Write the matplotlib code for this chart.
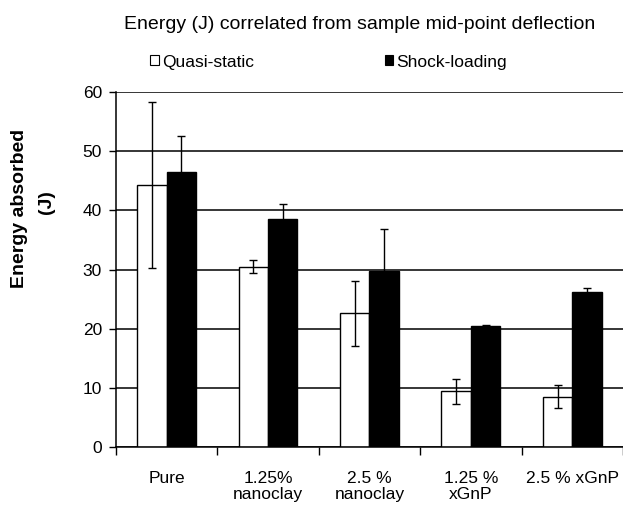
import matplotlib
matplotlib.use("Agg")
import matplotlib.pyplot as plt
import numpy as np
from matplotlib.patches import Patch

plt.rcParams['font.family'] = ['Liberation Sans', 'DejaVu Sans']

categories = ["Pure", "1.25%\nnanoclay", "2.5 %\nnanoclay", "1.25 %\nxGnP", "2.5 % xGnP"]
quasi_static = [44.3, 30.5, 22.6, 9.4, 8.5]
quasi_static_err = [14.1, 1.1, 5.5, 2.1, 2.0]
shock_loading = [46.5, 38.6, 29.8, 20.5, 26.2]
shock_loading_err = [6.1, 2.4, 7.0, 0.2, 0.7]
series_names = ["Quasi-static", "Shock-loading"]
yticks = [0, 10, 20, 30, 40, 50, 60]

fig = plt.figure(figsize=(6.23, 5.09), dpi=100)
ax = fig.add_axes([0.186, 0.122, 0.814, 0.697])

x = np.arange(len(categories)) + 0.5
w = 0.29
ax.bar(x - w / 2, quasi_static, w, color="white", edgecolor="black", linewidth=1.0, zorder=3)
ax.bar(x + w / 2, shock_loading, w, color="black", edgecolor="black", linewidth=1.0, zorder=3)
ax.errorbar(x - w / 2, quasi_static, yerr=quasi_static_err, fmt="none", ecolor="black",
            elinewidth=1.0, capsize=3, capthick=1.0, zorder=4)
ax.errorbar(x + w / 2, shock_loading, yerr=shock_loading_err, fmt="none", ecolor="black",
            elinewidth=1.0, capsize=3, capthick=1.0, zorder=4)

ax.set_xlim(0, len(categories))
ax.set_ylim(0, 60)
ax.set_yticks(yticks)
ax.set_yticklabels([str(v) for v in yticks], fontsize=12.5)
ax.set_xticks(np.arange(len(categories) + 1))
ax.set_xticklabels([])
ax.set_xticks(x, minor=True)
ax.set_xticklabels(categories, minor=True, fontsize=12.5, linespacing=1.1)
ax.tick_params(axis="x", which="minor", length=0, pad=17)
ax.tick_params(axis="x", which="major", length=6, width=1.0, direction="out")
ax.tick_params(axis="y", length=5, width=1.0, direction="out", pad=5)
ax.yaxis.grid(True, color="black", linewidth=1.1, zorder=0)
ax.set_axisbelow(True)
for s in ["top", "right"]:
    ax.spines[s].set_visible(False)
for s in ["left", "bottom"]:
    ax.spines[s].set_linewidth(1.1)
    ax.spines[s].set_zorder(5)

fig.text(0.577, 0.951, "Energy (J) correlated from sample mid-point deflection",
         ha="center", va="center", fontsize=14)
fig.text(0.032, 0.591, "Energy absorbed", rotation=90, ha="center", va="center",
         fontsize=14, fontweight="bold")
fig.text(0.075, 0.603, "(J)", rotation=90, ha="center", va="center",
         fontsize=14, fontweight="bold")

handles = [Patch(facecolor="white", edgecolor="black", linewidth=0.8),
           Patch(facecolor="black", edgecolor="black", linewidth=0.8)]
fig.legend(handles, series_names, loc="center left", bbox_to_anchor=(0.241, 0.878),
           ncol=2, frameon=False, fontsize=12.5, handlelength=0.5, handleheight=0.5,
           handletextpad=0.2, columnspacing=7.5, borderaxespad=0, borderpad=0)

fig.savefig("out.png", dpi=100)
